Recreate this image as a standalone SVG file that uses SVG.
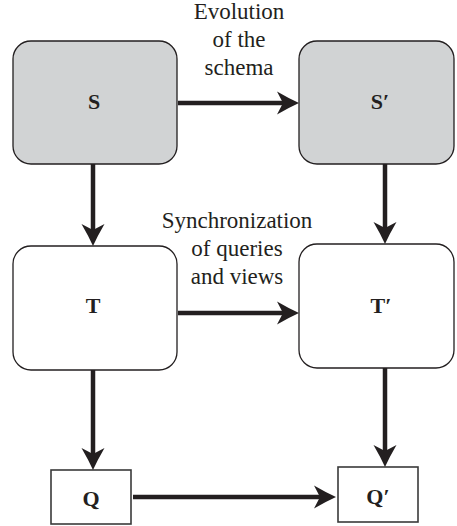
<svg xmlns="http://www.w3.org/2000/svg" width="457" height="526" viewBox="0 0 457 526">
<style>
.grey{fill:#d1d3d4;stroke:#231f20;stroke-width:1.3}
.white{fill:#fff;stroke:#231f20;stroke-width:1.3}
.sq{fill:#fff;stroke:#3a3a3a;stroke-width:1.6}
.nl{font-family:"Liberation Serif","Times New Roman",serif;font-weight:bold;font-size:22px;fill:#231f20;text-anchor:middle}
.el{font-family:"Liberation Serif","Times New Roman",serif;font-size:23px;fill:#231f20;text-anchor:middle}
.conn line{stroke:#231f20;stroke-width:4.5;fill:none}
</style>
<defs>
<marker id="ah" markerUnits="userSpaceOnUse" markerWidth="26" markerHeight="26" refX="14" refY="12" orient="auto" overflow="visible">
<path d="M0,0.5 Q12,7.5 22,12 Q12,16.5 0,23.5 L6,12 Z" fill="#231f20"/>
</marker>
</defs>
<g id="node-S"><rect class="grey" x="13" y="41" width="164" height="123" rx="18"/><text class="nl" x="94" y="109">S</text></g>
<g id="node-S2"><rect class="grey" x="299" y="41" width="155" height="123" rx="18"/><text class="nl" x="380" y="109">S′</text></g>
<g id="node-T"><rect class="white" x="13" y="246" width="164" height="124" rx="18"/><text class="nl" x="93" y="313">T</text></g>
<g id="node-T2"><rect class="white" x="299" y="244" width="155" height="124" rx="18"/><text class="nl" x="381" y="313">T′</text></g>
<g id="node-Q"><rect class="sq" x="51" y="470" width="80" height="54"/><text class="nl" x="91" y="506">Q</text></g>
<g id="node-Q2"><rect class="sq" x="338" y="467" width="80" height="55"/><text class="nl" x="378" y="504">Q′</text></g>
<g id="connectors" class="conn">
<line x1="178" y1="103" x2="291" y2="103" marker-end="url(#ah)"/>
<line x1="93" y1="164" x2="93" y2="238" marker-end="url(#ah)"/>
<line x1="385" y1="164" x2="385" y2="236" marker-end="url(#ah)"/>
<line x1="178" y1="313" x2="291" y2="313" marker-end="url(#ah)"/>
<line x1="93" y1="370" x2="93" y2="462" marker-end="url(#ah)"/>
<line x1="385" y1="368" x2="385" y2="459" marker-end="url(#ah)"/>
<line x1="133" y1="497" x2="328" y2="497" marker-end="url(#ah)"/>
</g>
<g id="labels">
<text class="el" x="239" y="19">Evolution</text>
<text class="el" x="239" y="47">of the</text>
<text class="el" x="239" y="75">schema</text>
<text class="el" x="237" y="228">Synchronization</text>
<text class="el" x="237" y="256">of queries</text>
<text class="el" x="237" y="284">and views</text>
</g>
</svg>
